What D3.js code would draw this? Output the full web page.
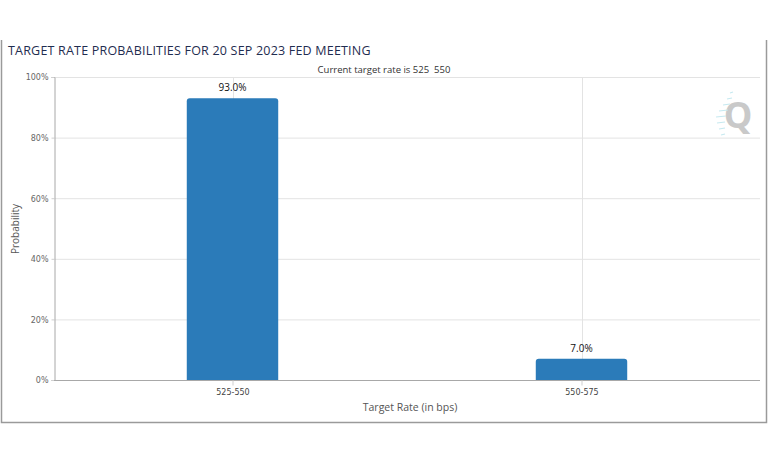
<!DOCTYPE html>
<html><head><meta charset="utf-8">
<script src="https://cdn.jsdelivr.net/npm/d3@7"></script>
<style>body{margin:0;background:#fff;}svg{display:block;font-family:"Open Sans","DejaVu Sans",sans-serif;}</style>
</head><body><svg id="c" width="768" height="463"></svg>
<script>
const categories = ["525-550", "550-575"];
const probabilities = [93.0, 7.0];
const yTicks = [0, 20, 40, 60, 80, 100];
const titleText = "TARGET RATE PROBABILITIES FOR 20 SEP 2023 FED MEETING";
const subtitleText = "Current target rate is 525\u00a0\u00a0550";

const svg = d3.select("#c");
const plot = {left: 54, right: 760, top: 77, bottom: 380};

// frame
svg.append("path").attr("d", "M1.5,40 V422.5 H766.5 V40").attr("fill","none").attr("stroke","#9a9a9a").attr("stroke-width",1.5);

const x = d3.scalePoint().domain(categories).range([58, 756]).padding(0.5);
const bw = x.step() * 0.262;
const y = d3.scaleLinear().domain([0, 100]).range([plot.bottom, plot.top]);

// horizontal grid
svg.append("g").selectAll("line").data(yTicks.filter(d=>d>0)).join("line")
  .attr("x1", plot.left).attr("x2", plot.right)
  .attr("y1", d=>y(d)+0.5).attr("y2", d=>y(d)+0.5)
  .attr("stroke","#e3e3e3");
// vertical grid at categories
svg.append("g").selectAll("line").data(categories).join("line")
  .attr("x1", d=>Math.round(x(d))+0.5).attr("x2", d=>Math.round(x(d))+0.5)
  .attr("y1", plot.top).attr("y2", plot.bottom)
  .attr("stroke","#e3e3e3");

// watermark Q
const wm = svg.append("g");
wm.append("text").attr("x", 738).attr("y", 128).attr("text-anchor","middle")
  .attr("font-size", 36).attr("font-weight","bold").attr("fill","#c9c9c9").text("Q");
[[730,93,3],[727,99,5],[723,105,7],[719,111,9],[716,117,10],[717,123,8],[719,129,6],[721,135,4]].forEach(([a,b,l])=>{
  wm.append("line").attr("x1",a).attr("x2",a+l).attr("y1",b).attr("y2",b-1).attr("stroke","#c6e9f0").attr("stroke-width",1.2);
});

// bars with rounded top corners
const r = 3;
svg.append("g").selectAll("path").data(categories).join("path")
  .attr("d", (d,i)=>{
    const x0 = x(d) - bw/2, x1 = x(d) + bw/2, yt = y(probabilities[i]), yb = y(0);
    return `M${x0},${yb} V${yt+r} Q${x0},${yt} ${x0+r},${yt} H${x1-r} Q${x1},${yt} ${x1},${yt+r} V${yb} Z`;
  })
  .attr("fill","#2b7bb9");

// bar labels
svg.append("g").selectAll("text").data(categories).join("text")
  .attr("x", d=>x(d)).attr("y", (d,i)=>y(probabilities[i]) - 7)
  .attr("text-anchor","middle").attr("font-size", 10).attr("fill","#111")
  .text((d,i)=>probabilities[i].toFixed(1)+"%");

// axes
const yAxis = d3.axisLeft(y).tickValues(yTicks).tickFormat(d=>d+"%").tickSize(3);
const gy = svg.append("g").attr("transform", `translate(${plot.left+0.5},0)`).call(yAxis);
gy.select(".domain").attr("stroke","#a8a8a8");
gy.selectAll(".tick line").attr("stroke","#cfcfcf");
gy.selectAll("text").attr("font-size", 8).attr("fill","#666").attr("font-family","'DejaVu Sans',sans-serif").attr("x",-6).attr("dy","0.35em");

const xAxis = d3.axisBottom(x).tickSize(5).tickSizeOuter(0);
const gx = svg.append("g").attr("transform", `translate(0,${plot.bottom+0.5})`).call(xAxis);
gx.select(".domain").attr("d", `M${plot.left},0H${plot.right}`).attr("stroke","#a8a8a8");
gx.selectAll(".tick line").attr("stroke","#cfcfcf");
gx.selectAll("text").attr("font-size", 8).attr("fill","#444").attr("font-family","'DejaVu Sans',sans-serif").attr("y", 9);

// titles
svg.append("text").attr("x", 8).attr("y", 55).attr("font-size", 12.5).attr("fill","#1f2d50")
  .attr("letter-spacing", 0.2).text(titleText);
svg.append("text").attr("x", 384).attr("y", 73).attr("text-anchor","middle").attr("font-size", 9.5)
  .attr("fill","#333").text(subtitleText);
svg.append("text").attr("x", 410).attr("y", 411).attr("text-anchor","middle").attr("font-size", 10.5)
  .attr("fill","#555").text("Target Rate (in bps)");
svg.append("text").attr("transform","translate(19,229) rotate(-90)").attr("text-anchor","middle")
  .attr("font-size", 10).attr("fill","#555").text("Probability");
</script></body></html>
